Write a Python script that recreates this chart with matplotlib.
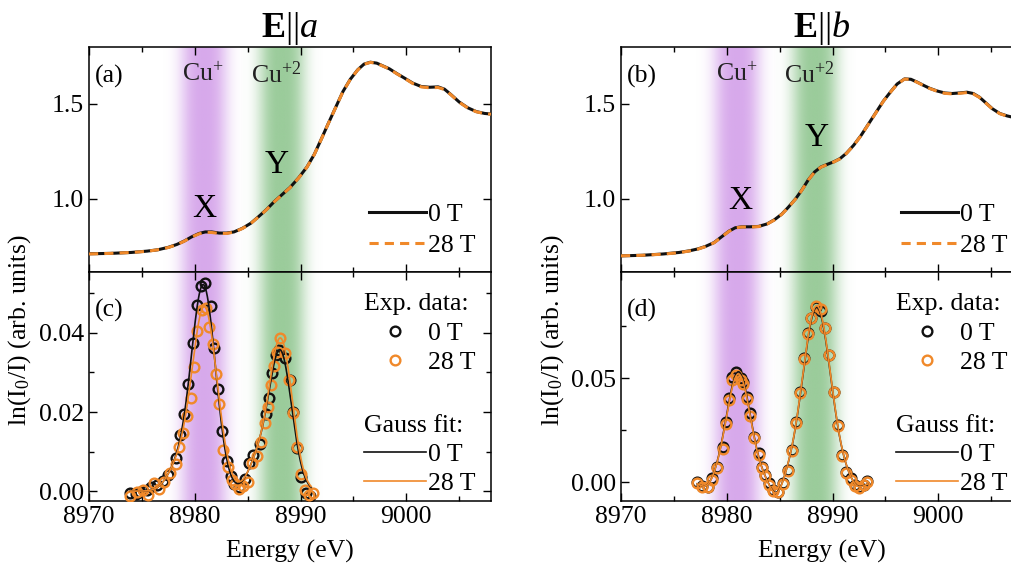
import numpy as np
import matplotlib
matplotlib.use("Agg")
import matplotlib.pyplot as plt
from matplotlib.colors import to_rgb
from matplotlib.lines import Line2D

plt.rcParams['font.family'] = ['Liberation Serif', 'DejaVu Serif']
plt.rcParams['mathtext.fontset'] = 'custom'
plt.rcParams['mathtext.rm'] = 'Liberation Serif'
plt.rcParams['mathtext.it'] = 'Liberation Serif:italic'
plt.rcParams['mathtext.bf'] = 'Liberation Serif:bold'
FS = 18.5
plt.rcParams['font.size'] = FS

# XANES spectra, E||a
energy_a = [8970.0, 8972.0, 8974.0, 8975.5, 8976.5, 8977.5, 8978.3, 8979.0, 8979.7, 8980.4,
            8981.0, 8981.6, 8982.3, 8983.0, 8983.7, 8984.5, 8985.3, 8986.0, 8986.8, 8987.5,
            8988.3, 8989.0, 8989.8, 8990.6, 8991.3, 8992.0, 8992.6, 8993.3, 8994.0, 8994.7,
            8995.4, 8996.0, 8996.6, 8997.2, 8997.8, 8998.4, 8999.1, 8999.8, 9000.6, 9001.4,
            9002.2, 9003.0, 9003.6, 9004.2, 9005.0, 9005.8, 9006.6, 9007.4, 9008.0]
xanes_a_0T = [0.711, 0.713, 0.718, 0.725, 0.732, 0.745, 0.760, 0.778, 0.800, 0.818,
              0.826, 0.826, 0.820, 0.820, 0.826, 0.845, 0.872, 0.905, 0.945, 0.985,
              1.025, 1.060, 1.110, 1.168, 1.235, 1.320, 1.395, 1.480, 1.565, 1.630,
              1.680, 1.710, 1.720, 1.715, 1.700, 1.685, 1.660, 1.637, 1.610, 1.592,
              1.588, 1.590, 1.578, 1.550, 1.510, 1.480, 1.460, 1.450, 1.447]
xanes_a_28T = [0.710, 0.713, 0.718, 0.724, 0.732, 0.744, 0.759, 0.777, 0.799, 0.816,
               0.824, 0.823, 0.818, 0.818, 0.825, 0.844, 0.871, 0.904, 0.944, 0.984,
               1.024, 1.059, 1.109, 1.167, 1.234, 1.319, 1.394, 1.479, 1.564, 1.629,
               1.679, 1.709, 1.719, 1.714, 1.699, 1.684, 1.659, 1.636, 1.608, 1.590,
               1.585, 1.587, 1.576, 1.549, 1.509, 1.479, 1.459, 1.449, 1.446]

# XANES spectra, E||b
energy_b = [8970.0, 8972.0, 8974.0, 8975.5, 8976.5, 8977.3, 8978.0, 8978.8, 8979.5, 8980.2,
            8980.8, 8981.4, 8982.2, 8983.0, 8983.8, 8984.5, 8985.2, 8985.8, 8986.5, 8987.1,
            8987.7, 8988.3, 8988.9, 8989.5, 8990.1, 8990.7, 8991.3, 8992.0, 8992.7, 8993.4,
            8994.1, 8994.8, 8995.5, 8996.1, 8996.8, 8997.4, 8998.0, 8998.6, 8999.2, 8999.9,
            9000.6, 9001.3, 9002.0, 9002.7, 9003.3, 9003.9, 9004.5, 9005.1, 9005.8, 9006.5,
            9007.2, 9008.0]
xanes_b_0T = [0.700, 0.703, 0.710, 0.718, 0.727, 0.737, 0.750, 0.770, 0.800, 0.830,
              0.848, 0.853, 0.853, 0.855, 0.868, 0.890, 0.920, 0.955, 1.000, 1.047,
              1.100, 1.142, 1.168, 1.182, 1.195, 1.212, 1.240, 1.283, 1.335, 1.395,
              1.455, 1.515, 1.565, 1.605, 1.632, 1.630, 1.615, 1.598, 1.582, 1.568,
              1.558, 1.555, 1.558, 1.562, 1.555, 1.535, 1.505, 1.475, 1.450, 1.437,
              1.428, 1.422]
xanes_b_28T = [0.700, 0.703, 0.709, 0.717, 0.726, 0.736, 0.749, 0.769, 0.799, 0.829,
               0.847, 0.852, 0.852, 0.854, 0.867, 0.889, 0.919, 0.954, 0.999, 1.046,
               1.099, 1.141, 1.167, 1.181, 1.194, 1.211, 1.239, 1.282, 1.334, 1.394,
               1.454, 1.514, 1.564, 1.604, 1.631, 1.629, 1.614, 1.597, 1.581, 1.567,
               1.556, 1.553, 1.556, 1.560, 1.553, 1.534, 1.504, 1.474, 1.449, 1.436,
               1.427, 1.421]

# difference spectra ln(I0/I), E||a
diff_a_E0 = [8973.9, 8974.4, 8974.8, 8975.5, 8975.9, 8976.4, 8977.0, 8977.5, 8978.2, 8978.6,
             8979.0, 8979.4, 8979.8, 8980.2, 8980.6, 8981.0, 8981.5, 8981.8, 8982.2, 8982.6,
             8983.0, 8983.4, 8983.7, 8984.2, 8984.7, 8985.1, 8985.5, 8986.2, 8986.7, 8987.0,
             8987.3, 8987.7, 8988.0, 8988.5, 8989.0, 8989.3, 8989.7, 8990.0, 8990.5, 8990.9]
diff_a_0T = [-0.0004, -0.0008, -0.0002, 0.0004, 0.0011, 0.0015, 0.0026, 0.0041, 0.0083, 0.0142,
             0.0195, 0.0272, 0.0375, 0.0471, 0.0519, 0.0527, 0.0468, 0.0363, 0.0257, 0.0152,
             0.0077, 0.0038, 0.0019, 0.0011, 0.0030, 0.0070, 0.0091, 0.0119, 0.0195, 0.0235,
             0.0298, 0.0344, 0.0357, 0.0336, 0.0280, 0.0201, 0.0108, 0.0035, -0.0004, -0.0013]
diff_a_E28 = [8973.9, 8974.5, 8975.1, 8975.6, 8976.1, 8976.6, 8977.1, 8977.7, 8978.2, 8978.5,
              8978.9, 8979.3, 8979.6, 8979.9, 8980.2, 8980.7, 8981.1, 8981.3, 8981.7, 8982.0,
              8982.3, 8982.7, 8983.1, 8983.5, 8983.8, 8984.2, 8984.6, 8985.0, 8985.4, 8985.9,
              8986.3, 8986.6, 8986.9, 8987.2, 8987.5, 8987.8, 8988.1, 8988.5, 8988.9, 8989.3,
              8989.7, 8990.0, 8990.4, 8990.8, 8991.2]
diff_a_28T = [-0.0012, -0.0003, 0.0002, -0.0010, 0.0020, 0.0005, 0.0024, 0.0045, 0.0068, 0.0112,
              0.0146, 0.0190, 0.0235, 0.0315, 0.0405, 0.0458, 0.0462, 0.0416, 0.0372, 0.0296,
              0.0220, 0.0105, 0.0060, 0.0029, 0.0017, 0.0006, 0.0012, 0.0022, 0.0070, 0.0090,
              0.0125, 0.0172, 0.0213, 0.0268, 0.0317, 0.0351, 0.0388, 0.0350, 0.0281, 0.0197,
              0.0112, 0.0044, 0.0002, -0.0010, -0.0005]

# difference spectra ln(I0/I), E||b
diff_b_E = [8977.2, 8977.7, 8978.2, 8978.6, 8979.1, 8979.6, 8979.9, 8980.2, 8980.5, 8980.9,
            8981.3, 8981.5, 8981.9, 8982.2, 8982.6, 8983.0, 8983.3, 8983.6, 8984.0, 8984.4,
            8984.8, 8985.3, 8985.8, 8986.2, 8986.5, 8986.9, 8987.3, 8987.7, 8988.0, 8988.4,
            8988.9, 8989.3, 8989.7, 8990.1, 8990.5, 8990.9, 8991.3, 8991.7, 8992.1, 8992.5,
            8993.0, 8993.3]
diff_b_0T = [-0.0002, -0.0019, -0.0024, 0.0018, 0.0074, 0.0170, 0.0290, 0.0406, 0.0503, 0.0531,
             0.0499, 0.0483, 0.0410, 0.0330, 0.0218, 0.0138, 0.0074, 0.0034, -0.0006, -0.0038,
             -0.0047, -0.0006, 0.0058, 0.0154, 0.0290, 0.0434, 0.0595, 0.0715, 0.0787, 0.0840,
             0.0824, 0.0739, 0.0611, 0.0434, 0.0274, 0.0130, 0.0050, 0.0018, -0.0014, -0.0024,
             -0.0013, 0.0005]
diff_b_28T = [-0.0004, -0.0022, -0.0026, 0.0012, 0.0068, 0.0160, 0.0280, 0.0395, 0.0490, 0.0515,
              0.0490, 0.0470, 0.0400, 0.0318, 0.0210, 0.0130, 0.0068, 0.0028, -0.0012, -0.0042,
              -0.0050, -0.0010, 0.0052, 0.0148, 0.0285, 0.0430, 0.0590, 0.0712, 0.0790, 0.0845,
              0.0830, 0.0742, 0.0612, 0.0432, 0.0270, 0.0126, 0.0046, 0.0012, -0.0018, -0.0028,
              -0.0016, 0.0002]

# Gauss fit parameters: centre (eV), amplitude, sigma (eV)
fit_a_0T = [(8978.3, 0.005, 1.0), (8980.8, 0.052, 1.15), (8985.8, 0.006, 0.9), (8988.05, 0.0355, 1.1)]
fit_a_28T = [(8978.3, 0.005, 1.0), (8980.9, 0.0465, 1.2), (8985.8, 0.006, 0.9), (8988.1, 0.0385, 1.1)]
fit_b_0T = [(8978.1, -0.003, 0.6), (8981.1, 0.053, 1.12), (8984.7, -0.0065, 0.6),
            (8988.5, 0.084, 1.32), (8992.4, -0.003, 0.6)]
fit_b_28T = [(8978.1, -0.003, 0.6), (8981.1, 0.052, 1.12), (8984.7, -0.0068, 0.6),
             (8988.5, 0.0848, 1.32), (8992.4, -0.0032, 0.6)]
fit_range_a = (8973.9, 8991.0)
fit_range_b = (8977.2, 8993.3)

# Cu+ / Cu+2 band centres
band_cu1 = [8980.8, 8980.9]
band_cu2 = [8988.2, 8988.3]

black = '#111111'
orange = '#f0892a'
purple = '#c888e4'
green = '#74b874'


def gauss_fit(e, params):
    y = np.zeros_like(e)
    for c, a, s in params:
        y += a * np.exp(-0.5 * ((e - c) / s) ** 2)
    return y


def band(ax, center, color, alpha=0.72):
    xs = np.linspace(center - 4.5, center + 4.5, 300)
    rgba = np.zeros((1, len(xs), 4))
    rgba[..., :3] = to_rgb(color)
    rgba[..., 3] = alpha * np.exp(-(np.abs(xs - center) / 2.2) ** 3)
    ax.imshow(rgba, extent=(xs[0], xs[-1], 0, 1), transform=ax.get_xaxis_transform(),
              aspect='auto', interpolation='bilinear', zorder=0)


def style(ax):
    ax.tick_params(which='both', direction='in', top=True, right=True, labelsize=FS)
    ax.tick_params(which='major', length=6, width=1)
    ax.tick_params(which='minor', length=3.5, width=1)
    for s in ax.spines.values():
        s.set_linewidth(1.1)


W, H = 1012, 572
fig = plt.figure(figsize=(W / 100, H / 100), dpi=100)

axes = {}
for col, x0 in enumerate([89, 621]):
    top = fig.add_axes([x0 / W, (H - 272) / H, 402 / W, 225 / H])
    bot = fig.add_axes([x0 / W, (H - 501) / H, 402 / W, 229 / H])
    axes[col] = (top, bot)

panels = [
    (energy_a, xanes_a_0T, xanes_a_28T, diff_a_E0, diff_a_0T, diff_a_E28, diff_a_28T,
     fit_a_0T, fit_a_28T, fit_range_a, ['(a)', '(c)'], r'$\mathbf{E}||a$'),
    (energy_b, xanes_b_0T, xanes_b_28T, diff_b_E, diff_b_0T, diff_b_E, diff_b_28T,
     fit_b_0T, fit_b_28T, fit_range_b, ['(b)', '(d)'], r'$\mathbf{E}||b$'),
]
xy_labels = [[(8980.9, 0.95), (8987.7, 1.18)], [(8981.3, 0.99), (8988.5, 1.32)]]
ylabel_x = [20, 553]

for col, p in enumerate(panels):
    (en, x0T, x28T, dE0, d0, dE28, d28, f0, f28, frange, tags, title) = p
    top, bot = axes[col]

    # top: XANES spectra
    band(top, band_cu1[col], purple)
    band(top, band_cu2[col], green)
    top.plot(en, x0T, color=black, lw=2.2, label='0 T', zorder=3)
    top.plot(en, x28T, color=orange, lw=2.2, ls=(0, (3.0, 2.0)), label='28 T', zorder=4)
    top.set_xlim(8970, 9008)
    top.set_ylim(0.615, 1.80)
    top.set_yticks([1.0, 1.5])
    top.set_xticks(np.arange(8970, 9010, 10))
    top.set_xticks(np.arange(8975, 9010, 10), minor=True)
    top.tick_params(labelbottom=False)
    style(top)
    top.text(0.015, 0.87, tags[0], transform=top.transAxes, fontsize=FS, va='center')
    top.text(band_cu1[col], 1.655, 'Cu$^{+}$', ha='center', va='center', fontsize=FS, color='#222222')
    top.text(band_cu2[col] - 0.5, 1.655, 'Cu$^{+2}$', ha='center', va='center', fontsize=FS, color='#222222')
    top.text(xy_labels[col][0][0], xy_labels[col][0][1], 'X', ha='center', va='center', fontsize=24)
    top.text(xy_labels[col][1][0], xy_labels[col][1][1], 'Y', ha='center', va='center', fontsize=24)
    top.legend(loc='lower right', bbox_to_anchor=(1.0, 0.0), frameon=False, fontsize=FS,
               handlelength=2.2, handletextpad=0.1, labelspacing=0.3, borderaxespad=0.2)
    top.set_title(title, fontsize=26, pad=6)

    # bottom: difference spectra with Gauss fits
    band(bot, band_cu1[col], purple)
    band(bot, band_cu2[col], green)
    bot.plot(dE0, d0, 'o', mfc='none', mec=black, ms=7, mew=1.7, zorder=3)
    bot.plot(dE28, d28, 'o', mfc='none', mec=orange, ms=7, mew=1.7, zorder=4)
    ef = np.linspace(frange[0], frange[1], 400)
    bot.plot(ef, gauss_fit(ef, f0), color=black, lw=1.2, zorder=5)
    bot.plot(ef, gauss_fit(ef, f28), color=orange, lw=1.2, zorder=6)
    bot.set_xlim(8970, 9008)
    bot.set_xticks(np.arange(8970, 9010, 10))
    bot.set_xticks(np.arange(8975, 9010, 10), minor=True)
    if col == 0:
        bot.set_ylim(-0.0025, 0.0554)
        bot.set_yticks([0.0, 0.02, 0.04])
        bot.set_yticks([0.01, 0.03, 0.05], minor=True)
    else:
        bot.set_ylim(-0.0091, 0.101)
        bot.set_yticks([0.0, 0.05])
        bot.set_yticks([0.025, 0.075], minor=True)
    bot.yaxis.set_major_formatter(plt.FormatStrFormatter('%.2f'))
    style(bot)
    bot.text(0.015, 0.83, tags[1], transform=bot.transAxes, fontsize=FS, va='center')
    bot.set_xlabel('Energy (eV)', fontsize=FS, labelpad=9)

    exp_handles = [Line2D([], [], ls='none', marker='o', mfc='none', mec=black, ms=7, mew=1.7),
                   Line2D([], [], ls='none', marker='o', mfc='none', mec=orange, ms=7, mew=1.7)]
    fit_handles = [Line2D([], [], color=black, lw=1.2), Line2D([], [], color=orange, lw=1.2)]
    leg1 = bot.legend(exp_handles, ['0 T', '28 T'], title='Exp. data:', loc='upper right',
                      bbox_to_anchor=(1.0, 0.975), frameon=False, fontsize=FS, title_fontsize=FS,
                      handlelength=2.4, handletextpad=0.1, labelspacing=0.25, borderaxespad=0.2,
                      alignment='left')
    bot.add_artist(leg1)
    bot.legend(fit_handles, ['0 T', '28 T'], title='Gauss fit:', loc='upper right',
               bbox_to_anchor=(1.0, 0.445), frameon=False, fontsize=FS, title_fontsize=FS,
               handlelength=2.4, handletextpad=0.1, labelspacing=0.25, borderaxespad=0.2,
               alignment='left')

    fig.text(ylabel_x[col] / W, (H - 330) / H, r'ln(I$_0$/I) (arb. units)',
             rotation=90, ha='center', va='center', fontsize=FS)

fig.savefig('out.png', dpi=100)
